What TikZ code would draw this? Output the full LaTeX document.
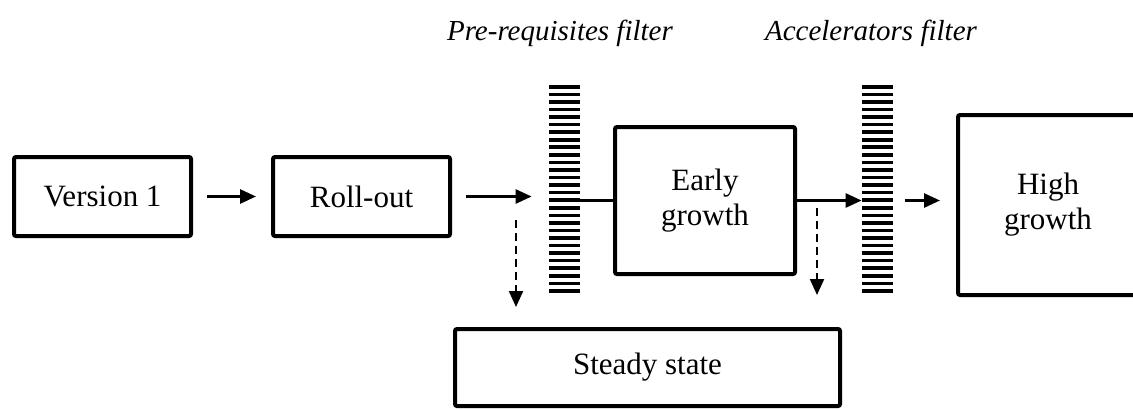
\documentclass[tikz,border=0pt]{standalone}
\usepackage{fontspec}
\setmainfont{Liberation Serif}
\usepackage{tikz}
\usetikzlibrary{arrows.meta}

\begin{document}
\begin{tikzpicture}[font=\fontsize{15.5bp}{17.5bp}\selectfont,
  box/.style={draw,line width=2bp,rounded corners=1bp,align=center,inner sep=0pt},
  flow/.style={-{Triangle[length=8bp,width=7bp]},line width=1.4bp},
  exit/.style={flow,line width=1.1bp,dash pattern=on 4bp off 2.5bp},
  filt/.style={minimum width=15.5bp,minimum height=104.5bp,inner sep=0pt,
    path picture={\foreach \k in {0,...,27}
      \fill ([yshift=-\k*3.78bp]path picture bounding box.north west) rectangle ++(15.5bp,-1.8bp);}}]
\useasboundingbox (0bp,0bp) rectangle (566.5bp,-205bp);
\node (V1) at (51.25bp,-98.25bp)[box,minimum width=88.5bp,minimum height=39.5bp] {Version 1};
\node (RO) at (180.75bp,-98.25bp)[box,minimum width=88.5bp,minimum height=39.5bp] {Roll-out};
\node (EG) at (352.5bp,-100.25bp)[box,minimum width=90bp,minimum height=73.5bp] {Early\\growth};
\node (HG) at (524bp,-102.5bp)[box,minimum width=90bp,minimum height=90bp] {High\\growth};
\node (SS) at (323.75bp,-183.75bp)[box,minimum width=192.5bp,minimum height=38.5bp] {Steady state};
\node (PF) at (282.25bp,-94.75bp)[filt] {};
\node (AF) at (438.75bp,-94.75bp)[filt] {};
\node (PL) at (280bp,-16.5bp)[font=\fontsize{14.5bp}{17.5bp}\selectfont] {\textit{Pre-requisites filter}};
\node (AL) at (435.5bp,-16.5bp)[font=\fontsize{14.5bp}{17.5bp}\selectfont] {\textit{Accelerators filter}};
\coordinate (D1) at (258bp,-110bp);
\coordinate (D2) at (408.5bp,-104bp);
\draw [flow,shorten <=7bp,shorten >=7.5bp] (V1) -- (RO);
\draw [flow,shorten <=7bp,shorten >=8.5bp] (RO.east) -- (RO.east -| PF.west);
\draw [line width=1.4bp] (PF.east |- EG.west) -- (EG.west);
\draw [flow] (EG.east) -- (EG.east -| AF.west);
\draw [flow,shorten <=6bp,shorten >=8bp] (AF.east |- EG.east) -- (EG.east -| HG.west);
\draw [exit,shorten >=10bp] (D1) -- (D1 |- SS.north);
\draw [exit,shorten >=16bp] (D2) -- (D2 |- SS.north);
\end{tikzpicture}
\end{document}
